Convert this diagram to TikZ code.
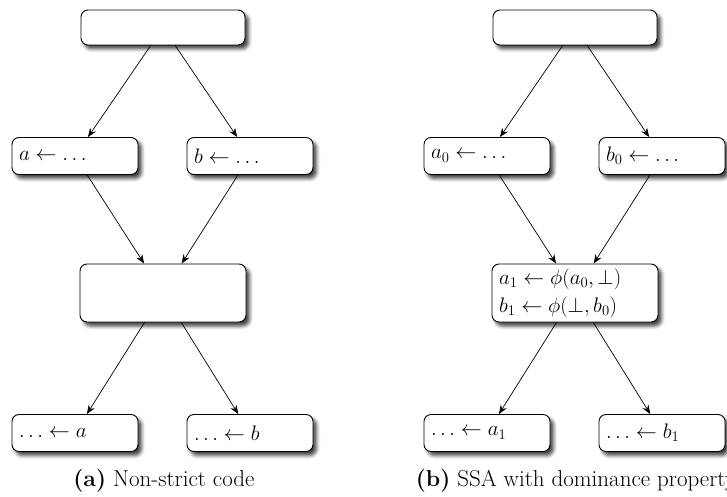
\documentclass[tikz,border=0pt]{standalone}
\usepackage{fix-cm}
\usepackage{fontspec}
\usepackage{amsmath,amssymb}
\usepackage{tikz}
\usetikzlibrary{arrows.meta,shadows.blur}
\newcommand*{\CfgPanel}[8]{%
  \node[block,minimum width=164pt,minimum height=35pt] (#2top) at (#1+163,27.5) {};
  \node[block,text width=112pt] (#2a) at (#1+75,156) {#3};
  \node[block,text width=112pt] (#2b) at (#1+250,156) {#4};
  \node[block,text width=152pt,minimum height=58pt] (#2mid) at (#1+163,293) {#5};
  \node[block,text width=112pt] (#2ua) at (#1+75,433) {#6};
  \node[block,text width=112pt] (#2ub) at (#1+250,433) {#7};
  \node[font=\fontsize{23}{28}\selectfont] (#2cap) at (#1+164,481) {#8};
  \draw[->] (#2top) -- (#2a);
  \draw[->] (#2top) -- (#2b);
  \draw[->] (#2a) -- (#2mid);
  \draw[->] (#2b) -- (#2mid);
  \draw[->] (#2mid) -- (#2ua);
  \draw[->] (#2mid) -- (#2ub);
}

\begin{document}
\begin{tikzpicture}[x=1pt,y=-1pt,font=\fontsize{21}{28}\selectfont]
\tikzstyle{block}=[draw,line width=0.9pt,rounded corners=7pt,fill=white,
  inner xsep=7pt,inner ysep=3pt,minimum height=37pt,align=left,
  blur shadow={shadow xshift=3.5pt,shadow yshift=-4pt,shadow blur radius=3.5pt,shadow opacity=75}]
\tikzset{>={Stealth[length=9pt,width=7pt,inset=3pt]},every path/.append style={line width=0.7pt}}
\useasboundingbox (0,0) rectangle (727,497);
\CfgPanel{0}{l}{$a \leftarrow \ldots$}{$b \leftarrow \ldots$}{}%
  {$\ldots \leftarrow a$}{$\ldots \leftarrow b$}{\textbf{(a)} Non-strict code}
\CfgPanel{412}{r}{$a_0 \leftarrow \ldots$}{$b_0 \leftarrow \ldots$}%
  {$a_1 \leftarrow \phi(a_0,\bot)$\\$b_1 \leftarrow \phi(\bot, b_0)$}%
  {$\ldots \leftarrow a_1$}{$\ldots \leftarrow b_1$}{\textbf{(b)} SSA with dominance property}
\end{tikzpicture}
\end{document}
